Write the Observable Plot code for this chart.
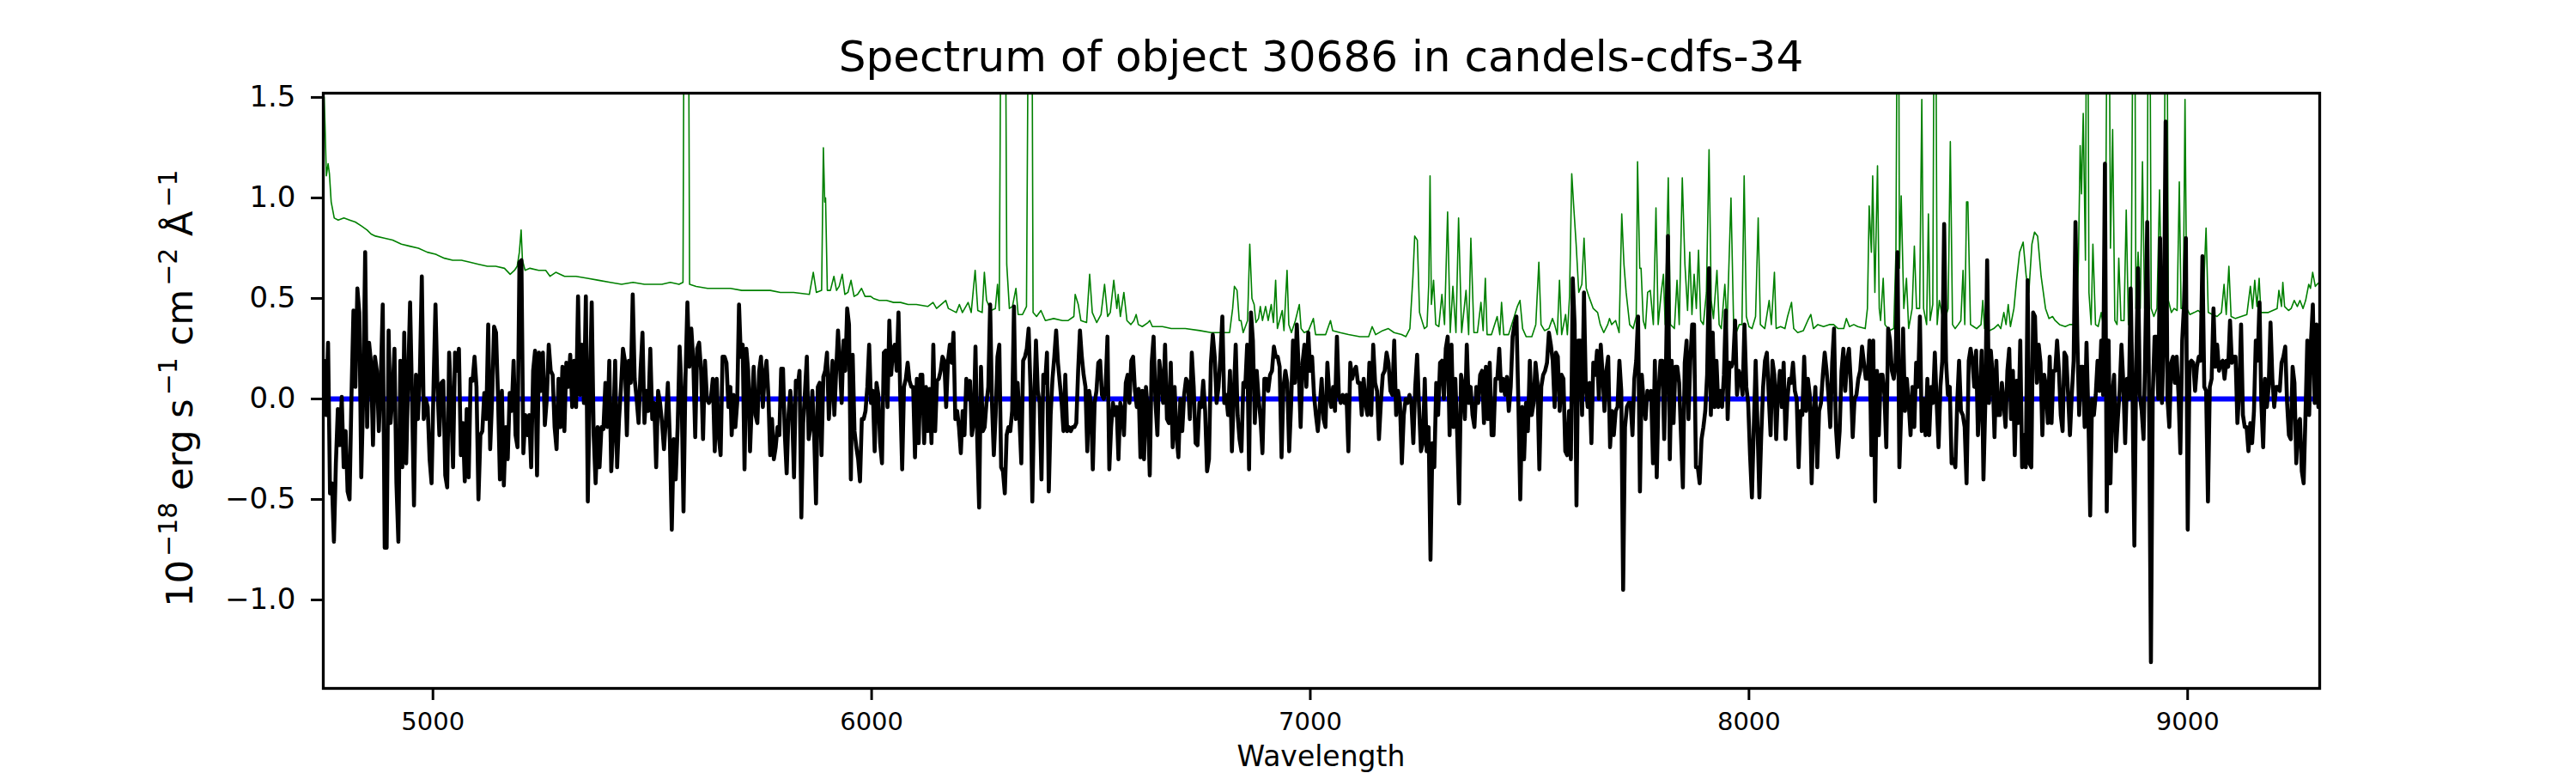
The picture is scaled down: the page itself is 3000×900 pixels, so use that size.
<!DOCTYPE html>
<html>
<head>
<meta charset="utf-8">
<script src="https://cdn.jsdelivr.net/npm/d3@7"></script>
<script src="https://cdn.jsdelivr.net/npm/@observablehq/plot@0.6"></script>
<style>
  html, body { margin: 0; padding: 0; background: #fff; }
  #wrap { position: relative; width: 3000px; height: 900px; font-family: "DejaVu Sans", sans-serif; color: #000; }
  #title { box-sizing: border-box; margin-left: 376px; width: 2325px; height: 100px; padding-top: 37px;
           font-size: 50px; line-height: 58px; text-align: center; white-space: nowrap; }
  #chart svg { display: block; }
</style>
</head>
<body>
<div id="wrap">
  <div id="title"></div>
  <div id="chart"></div>
</div>
<script>
const flux1 = [0.19,-0.08,0.28,-0.47,-0.42,-0.71,-0.32,-0.05,-0.23,0.01,-0.34,-0.16,-0.46,-0.50,0.02,0.44,0.06,0.55,0.43,-0.39,0.02,0.73,-0.14,0.28,0.18,-0.23,0.21,0.14,-0.16,0.10,0.47,-0.74,-0.74,0.34,-0.12,0.02,0.25,-0.42,-0.71,0.19,-0.34,0.33,-0.32,0.10,0.48,0.00,-0.53,0.12,-0.10,0.12,0.61,-0.10,0.00,-0.04,-0.30,-0.42,0.06,0.47,0.06,-0.18,0.08,0.09,-0.38,-0.44,0.23,-0.02,-0.34,0.23,0.14,0.25,-0.28,-0.12,-0.41,-0.05,-0.39,0.10,0.09,0.21,0.06,-0.50,-0.18,-0.16,0.03,-0.10,0.37,-0.25,0.00,0.36,0.33,0.02,-0.40,0.04,-0.43,-0.14,-0.30,0.03,-0.06,0.19,-0.18,-0.24,0.68,0.69,-0.27,-0.08,-0.18,-0.08,-0.34,0.14,0.24,-0.38,0.23,0.04,0.23,-0.13,0.00,0.27,0.14,0.12,-0.14,-0.25,0.10,-0.14,0.16,-0.16,0.18,0.06,0.22,-0.04,0.19,-0.04,0.51,0.02,0.27,-0.02,0.51,-0.51,0.05,0.48,-0.18,-0.42,-0.14,-0.34,-0.14,-0.15,0.08,-0.14,0.19,-0.36,-0.16,0.19,-0.34,-0.10,0.06,0.25,0.19,-0.18,0.19,0.08,0.52,0.10,0.00,-0.12,0.14,0.33,-0.12,0.04,-0.06,0.25,-0.10,-0.02,-0.34,0.04,-0.02,-0.12,-0.25,-0.10,0.08,-0.20,-0.65,-0.20,-0.40,-0.14,0.26,0.04,-0.56,0.10,0.48,0.16,0.35,0.19,-0.19,0.25,0.28,0.14,-0.20,0.19,0.00,-0.02,0.00,0.10,-0.26,0.10,-0.18,-0.28,0.21,0.21,0.18,-0.04,0.06];
const flux2 = [-0.18,0.02,-0.14,-0.02,0.47,0.21,0.27,-0.35,0.25,0.14,-0.26,-0.02,0.16,-0.08,-0.12,0.14,0.21,-0.04,0.12,0.19,0.02,-0.28,-0.10,-0.30,-0.24,-0.14,-0.18,0.15,0.15,-0.18,-0.37,-0.08,0.04,-0.08,-0.39,0.09,0.06,0.14,-0.59,-0.12,0.04,0.21,-0.20,-0.14,0.04,-0.18,-0.52,0.06,0.08,-0.28,0.11,0.14,0.23,-0.10,0.06,0.19,-0.08,0.14,0.34,0.18,-0.02,0.29,0.14,0.45,0.37,-0.40,0.22,-0.16,-0.24,-0.30,-0.41,-0.10,-0.10,-0.06,0.06,0.27,-0.02,0.04,-0.26,0.08,0.02,-0.22,-0.32,0.23,0.24,-0.04,0.39,0.12,0.25,0.27,0.14,0.43,0.00,-0.35,0.06,0.10,0.18,0.09,0.06,0.06,-0.29,0.10,-0.22,0.12,0.12,-0.22,0.06,-0.16,0.05,-0.22,0.27,-0.16,0.09,0.10,0.14,0.21,0.19,-0.04,0.19,0.27,0.18,0.33,-0.10,-0.06,-0.14,-0.27,-0.06,-0.18,0.10,0.00,0.09,-0.18,-0.12,0.26,-0.22,-0.54,0.16,-0.16,-0.14,-0.02,0.06,0.47,-0.02,-0.28,-0.08,0.21,0.27,-0.34,-0.36,-0.47,-0.18,-0.14,-0.16,-0.06,0.46,-0.10,0.08,-0.10,-0.32,0.19,0.21,0.25,0.35,0.06,-0.51,-0.02,0.29,0.04,-0.02,-0.40,0.12,0.08,0.23,-0.46,-0.08,0.10,0.21,0.34,0.18,0.08,-0.02,-0.16,0.12,-0.16,-0.14,-0.16,-0.14,-0.14,-0.12,0.14,0.34,0.21,0.12,0.06,-0.26,0.04,-0.02,-0.35,-0.02,0.04,0.18,0.19,0.02,0.00,0.06,0.31,-0.35,-0.14,-0.02,-0.08,-0.04,-0.30,-0.02,-0.06,-0.18,0.08,0.12,-0.02,0.19,0.21,0.04,-0.04,0.05,-0.29,0.04];
const flux3 = [-0.30,0.06,-0.06,-0.38,0.18,0.31,-0.02,-0.18,0.19,0.10,-0.02,0.27,-0.10,-0.12,0.18,-0.24,0.06,-0.18,-0.29,0.00,-0.16,0.02,0.10,0.08,-0.10,0.23,0.06,-0.22,-0.23,-0.02,-0.04,0.09,-0.06,-0.36,-0.30,0.18,0.32,0.21,-0.02,0.06,0.21,0.41,-0.02,0.02,-0.08,0.14,-0.26,0.02,0.27,-0.08,-0.20,-0.26,0.08,0.06,0.27,-0.35,0.43,0.29,-0.12,0.14,0.00,-0.10,-0.27,0.10,0.10,0.04,0.12,0.14,0.26,0.21,0.21,0.16,-0.29,0.06,0.14,0.08,-0.26,-0.03,0.29,0.08,0.37,0.14,-0.14,0.18,0.27,0.06,0.33,0.14,0.21,0.02,-0.08,-0.16,-0.04,0.10,-0.10,-0.14,0.18,0.02,-0.04,0.06,-0.06,0.31,0.02,-0.02,0.02,-0.02,0.02,-0.26,0.18,0.10,0.14,0.16,0.08,0.08,-0.08,0.10,-0.02,-0.08,0.18,-0.08,0.27,0.08,0.04,-0.20,-0.02,0.12,0.14,0.23,0.18,0.04,0.02,0.29,-0.08,0.04,-0.02,-0.32,-0.08,0.00,-0.02,0.02,-0.02,-0.22,0.06,0.22,-0.04,-0.26,-0.22,0.10,-0.26,-0.14,-0.80,-0.22,-0.34,0.08,-0.08,0.18,0.19,0.00,0.25,0.31,-0.18,0.27,-0.14,0.10,-0.18,-0.52,0.12,0.06,-0.10,0.27,-0.02,0.06,-0.08,-0.14,0.06,-0.02,0.12,0.14,-0.12,0.16,-0.10,0.18,-0.18,-0.18,0.10,0.10,0.25,0.04,0.10,0.02,0.11,-0.06,0.06,0.31,0.37,0.41,-0.02,-0.50,-0.04,-0.30,-0.02,-0.16,0.19,-0.08,-0.02,0.18,0.08,-0.35,0.06,0.12,0.14,0.18,0.33,0.27,0.19,-0.04];
const flux4 = [0.23,0.21,-0.06,0.12,0.10,-0.26,-0.28,-0.06,-0.30,0.60,0.37,-0.53,0.29,0.29,-0.08,0.53,0.06,-0.04,0.08,-0.22,0.18,0.12,0.24,0.00,0.27,0.12,-0.06,0.14,0.21,-0.24,-0.06,-0.18,-0.06,-0.04,0.19,0.04,-0.95,-0.14,-0.04,-0.02,-0.02,-0.18,0.10,0.19,0.41,-0.46,0.12,-0.02,-0.10,0.04,0.00,0.04,-0.32,0.19,-0.39,0.04,0.19,0.19,-0.20,0.19,0.81,-0.30,0.19,-0.12,0.16,0.16,0.08,-0.18,-0.44,0.18,0.29,-0.10,0.19,0.37,0.37,-0.34,-0.34,-0.42,-0.20,-0.14,-0.06,0.12,0.65,-0.08,0.33,-0.04,0.19,-0.04,0.04,-0.04,0.12,0.44,-0.10,0.18,0.16,0.19,0.39,0.02,0.14,0.10,0.02,0.37,0.06,-0.02,-0.28,-0.49,-0.14,0.19,-0.14,-0.49,-0.18,0.06,0.19,0.23,0.02,-0.18,0.19,0.12,-0.20,0.04,0.14,-0.04,0.18,-0.20,0.00,0.10,0.08,0.18,0.04,0.00,-0.34,-0.06,-0.08,0.21,-0.06,0.10,0.02,-0.42,-0.08,0.06,-0.34,-0.06,-0.02,0.12,0.23,0.14,0.02,-0.14,0.18,0.35,-0.14,-0.29,-0.16,0.14,0.25,0.04,0.19,0.25,0.08,-0.19,0.00,0.02,0.10,0.14,0.26,0.18,0.10,0.10,0.29,-0.28,0.29,-0.51,0.14,-0.18,0.12,0.12,0.02,-0.24,0.35,0.29,0.14,0.10,0.18,0.73,-0.34,-0.06,0.35,-0.06,0.10,-0.02,-0.18,0.06,-0.14,0.18,0.06,0.41,-0.16,0.00,-0.18,0.10,-0.18,0.06,-0.02,0.23,-0.02,-0.24,0.06,0.19,0.87,0.19,0.02,0.06,-0.32,-0.30,-0.34,-0.02,0.19,-0.06,-0.08,-0.14,-0.42];
const flux5 = [0.19,0.25,0.19,0.06,0.24,-0.18,0.00,0.24,-0.40,-0.02,0.69,-0.02,0.24,0.12,-0.19,0.19,-0.08,-0.08,0.08,-0.02,-0.14,0.14,0.25,-0.10,0.14,-0.28,0.09,-0.12,0.29,-0.34,-0.18,-0.34,0.59,-0.32,-0.34,0.43,0.41,0.08,0.27,0.18,-0.18,0.12,0.06,-0.12,0.21,-0.12,0.14,0.14,0.29,0.14,-0.08,-0.16,0.23,0.21,0.02,-0.18,0.02,0.19,0.88,0.31,-0.08,0.16,0.16,-0.14,0.28,-0.08,-0.58,0.00,-0.08,0.02,0.19,0.04,0.29,0.02,1.17,-0.56,0.29,-0.42,0.02,0.12,-0.26,-0.10,0.04,0.27,0.08,-0.22,0.10,0.00,0.55,0.02,-0.73,0.18,0.65,0.02,-0.06,-0.20,0.29,0.88,-0.02,-1.31,0.02,0.31,0.31,0.00,0.80,-0.02,0.31,1.38,0.00,-0.14,0.18,0.21,0.08,0.21,0.02,-0.27,0.29,0.47,0.80,-0.65,0.18,0.19,0.18,0.04,0.16,0.21,0.19,0.71,0.06,0.04,-0.51,0.06,0.10,0.45,0.16,0.27,0.14,0.18,0.19,0.10,0.19,0.16,0.39,0.18,0.21,0.21,-0.12,0.04,0.37,-0.08,-0.14,-0.14,-0.26,-0.12,-0.22,-0.06,0.29,0.19,0.48,-0.02,-0.24,0.10,-0.04,0.06,0.38,0.10,-0.04,0.06,0.06,0.04,0.18,0.21,0.26,-0.02,-0.18,-0.20,0.16,0.08,-0.32,-0.12,-0.10,-0.36,-0.42,-0.08,0.29,-0.08,0.29,0.47,-0.02,0.37,-0.04];
// wavelength range (Å) covered by each flux segment, sampled evenly
const fluxRanges = [[4752, 5678], [5681, 6617], [6621, 7557], [7560, 8496], [8501, 9298]];

// ---- noise / sky spectrum (green): [wavelength Å, value] ----
const noise = [[4750,1.52],[4752,1.50],[4754,1.36],[4757,1.11],[4761,1.17],[4764,1.12],[4768,0.98],[4775,0.90],[4784,0.89],[4797,0.90],[4810,0.89],[4823,0.88],[4837,0.86],[4850,0.84],[4859,0.82],[4869,0.81],[4889,0.80],[4908,0.79],[4928,0.77],[4947,0.76],[4967,0.75],[4987,0.73],[5006,0.72],[5026,0.70],[5045,0.69],[5065,0.69],[5084,0.68],[5104,0.67],[5124,0.66],[5143,0.66],[5163,0.65],[5176,0.62],[5186,0.64],[5192,0.66],[5197,0.73],[5201,0.84],[5204,0.69],[5210,0.64],[5221,0.65],[5241,0.64],[5257,0.64],[5267,0.61],[5280,0.63],[5300,0.61],[5326,0.61],[5352,0.60],[5378,0.59],[5404,0.58],[5430,0.57],[5456,0.58],[5482,0.57],[5522,0.57],[5541,0.58],[5561,0.57],[5570,0.58],[5574,3.0],[5581,3.0],[5585,0.57],[5600,0.56],[5626,0.55],[5652,0.55],[5678,0.55],
[5704,0.54],[5730,0.54],[5769,0.54],[5792,0.53],[5822,0.53],[5858,0.52],[5867,0.63],[5874,0.53],[5886,0.54],[5890,1.25],[5893,0.98],[5895,1.00],[5899,0.54],[5906,0.54],[5914,0.61],[5920,0.54],[5926,0.56],[5933,0.62],[5939,0.52],[5946,0.53],[5953,0.59],[5960,0.51],[5968,0.52],[5977,0.55],[5985,0.51],[5998,0.51],[6004,0.50],[6017,0.49],[6034,0.49],[6050,0.48],[6066,0.48],[6083,0.47],[6102,0.47],[6128,0.46],[6140,0.48],[6148,0.45],[6169,0.49],[6175,0.45],[6193,0.43],[6200,0.47],[6207,0.43],[6220,0.48],[6227,0.43],[6236,0.64],[6242,0.44],[6252,0.43],[6257,0.63],[6262,0.49],[6272,0.44],[6282,0.45],[6287,0.57],[6291,0.44],[6297,3.0],[6303,3.0],[6308,0.67],[6314,0.45],[6321,0.46],[6329,0.55],[6334,0.42],[6344,0.42],[6353,0.46],[6360,3.0],[6364,3.0],[6368,0.43],[6376,0.41],[6386,0.44],[6396,0.39],[6415,0.40],[6435,0.39],[6448,0.39],[6461,0.41],[6464,0.52],[6471,0.47],[6477,0.39],[6490,0.38],[6497,0.62],[6503,0.43],[6513,0.38],[6523,0.42],[6531,0.57],[6538,0.41],[6544,0.43],[6552,0.59],[6559,0.45],[6562,0.52],[6567,0.41],[6575,0.53],[6582,0.39],[6591,0.37],[6598,0.39],[6603,0.42],[6608,0.37],[6617,0.36],
[6630,0.38],[6634,0.39],[6640,0.36],[6663,0.36],[6683,0.35],[6715,0.35],[6748,0.34],[6774,0.33],[6800,0.33],[6816,0.33],[6823,0.45],[6827,0.56],[6833,0.54],[6838,0.39],[6842,0.39],[6847,0.33],[6857,0.39],[6862,0.77],[6867,0.50],[6872,0.47],[6876,0.38],[6882,0.40],[6886,0.46],[6891,0.39],[6898,0.46],[6904,0.39],[6911,0.47],[6916,0.38],[6921,0.59],[6925,0.35],[6936,0.44],[6940,0.34],[6947,0.64],[6951,0.37],[6957,0.33],[6966,0.39],[6975,0.47],[6979,0.35],[6986,0.33],[6996,0.34],[7007,0.40],[7012,0.32],[7022,0.32],[7035,0.32],[7046,0.39],[7051,0.34],[7068,0.33],[7087,0.32],[7113,0.31],[7133,0.31],[7141,0.36],[7149,0.32],[7165,0.34],[7178,0.35],[7191,0.33],[7208,0.32],[7218,0.31],[7227,0.35],[7234,0.61],[7238,0.81],[7244,0.79],[7249,0.43],[7253,0.40],[7260,0.35],[7266,0.36],[7270,0.57],[7273,1.11],[7276,0.47],[7281,0.59],[7286,0.37],[7293,0.36],[7300,0.52],[7306,0.37],[7313,0.93],[7319,0.33],[7325,0.56],[7332,0.33],[7338,0.90],[7345,0.33],[7355,0.54],[7361,0.32],[7366,0.80],[7373,0.33],[7381,0.33],[7389,0.48],[7394,0.34],[7399,0.60],[7403,0.32],[7413,0.32],[7426,0.41],[7432,0.32],[7436,0.48],[7441,0.32],[7452,0.32],[7465,0.41],[7472,0.46],[7478,0.49],[7484,0.35],[7492,0.31],[7505,0.31],[7514,0.37],[7521,0.68],[7526,0.37],[7534,0.34],[7544,0.35],[7552,0.40],[7557,0.37],
[7563,0.32],[7568,0.59],[7573,0.32],[7582,0.42],[7586,0.32],[7591,0.51],[7596,1.12],[7601,0.94],[7606,0.77],[7612,0.53],[7619,0.57],[7624,0.80],[7629,0.55],[7635,0.51],[7645,0.45],[7655,0.43],[7661,0.37],[7669,0.33],[7678,0.37],[7682,0.40],[7687,0.37],[7696,0.39],[7704,0.33],[7710,0.92],[7715,0.67],[7720,0.53],[7728,0.37],[7736,0.35],[7743,0.41],[7746,1.18],[7751,0.65],[7754,0.65],[7759,0.39],[7764,0.35],[7769,0.53],[7775,0.54],[7782,0.37],[7788,0.95],[7793,0.37],[7800,0.53],[7805,0.62],[7809,0.37],[7816,1.10],[7821,0.37],[7830,0.35],[7836,0.59],[7841,0.37],[7848,1.10],[7854,0.67],[7860,0.44],[7865,0.73],[7870,0.42],[7875,0.62],[7880,0.45],[7885,0.74],[7890,0.39],[7896,0.37],[7903,0.53],[7909,1.24],[7914,0.49],[7919,0.40],[7927,0.64],[7932,0.37],[7937,0.35],[7945,0.57],[7950,0.36],[7959,1.00],[7965,0.37],[7971,0.33],[7978,0.37],[7984,0.37],[7989,1.11],[7994,0.41],[8000,0.36],[8007,0.35],[8015,0.41],[8021,0.90],[8026,0.37],[8036,0.35],[8046,0.49],[8051,0.37],[8058,0.63],[8062,0.35],[8072,0.36],[8082,0.35],[8088,0.41],[8097,0.48],[8102,0.35],[8111,0.33],[8124,0.34],[8134,0.39],[8141,0.42],[8147,0.35],[8157,0.37],[8170,0.36],[8183,0.37],[8193,0.37],[8203,0.35],[8216,0.35],[8222,0.40],[8229,0.36],[8239,0.37],[8248,0.36],[8265,0.35],[8270,0.45],[8274,0.96],[8279,0.73],[8282,1.11],[8287,0.53],[8293,1.16],[8297,0.45],[8300,0.39],[8306,0.60],[8310,0.37],[8320,0.34],[8330,0.35],[8335,0.73],[8340,3.0],[8343,0.65],[8347,1.01],[8353,0.45],[8359,0.60],[8364,0.35],[8372,0.45],[8377,0.76],[8382,0.45],[8389,0.45],[8394,1.49],[8398,0.45],[8405,0.37],[8409,0.92],[8413,0.39],[8419,0.47],[8424,3.0],[8429,0.37],[8434,0.49],[8441,0.41],[8446,0.39],[8454,0.45],[8459,1.28],[8464,0.37],[8470,0.35],[8477,0.37],[8483,0.39],[8488,0.64],[8492,0.37],[8496,0.98],
[8499,0.98],[8505,0.37],[8512,0.36],[8519,0.35],[8529,0.37],[8533,0.49],[8537,0.35],[8548,0.34],[8558,0.35],[8568,0.37],[8574,0.35],[8581,0.43],[8586,0.37],[8591,0.47],[8596,0.36],[8604,0.45],[8610,0.59],[8617,0.73],[8625,0.78],[8632,0.61],[8638,0.53],[8645,0.77],[8651,0.83],[8658,0.81],[8666,0.61],[8676,0.45],[8684,0.40],[8692,0.41],[8698,0.39],[8708,0.37],[8721,0.36],[8731,0.37],[8741,0.37],[8747,0.39],[8751,0.69],[8755,1.26],[8758,1.02],[8762,1.42],[8767,0.69],[8771,3.0],[8775,0.53],[8780,0.37],[8784,0.77],[8790,0.37],[8796,0.36],[8803,0.43],[8809,0.35],[8814,1.16],[8819,3.0],[8824,0.75],[8829,1.34],[8834,0.39],[8839,0.37],[8843,0.70],[8848,0.39],[8855,0.39],[8860,0.94],[8865,0.37],[8871,0.37],[8878,3.0],[8882,0.45],[8887,0.73],[8892,0.45],[8897,1.18],[8902,0.45],[8907,0.41],[8912,3.0],[8917,0.45],[8923,0.41],[8930,0.45],[8936,1.04],[8941,0.45],[8946,0.57],[8951,3.0],[8956,0.49],[8963,0.43],[8969,0.45],[8976,0.44],[8981,1.08],[8985,0.45],[8990,0.45],[8994,1.49],[8998,0.45],[9005,0.42],[9015,0.43],[9024,0.44],[9034,0.42],[9042,0.85],[9047,0.43],[9057,0.42],[9067,0.41],[9077,0.43],[9083,0.57],[9088,0.42],[9094,0.66],[9099,0.41],[9109,0.40],[9122,0.41],[9135,0.42],[9143,0.56],[9148,0.45],[9153,0.59],[9158,0.46],[9163,0.60],[9167,0.43],[9175,0.43],[9184,0.43],[9194,0.44],[9204,0.45],[9208,0.54],[9214,0.46],[9217,0.58],[9221,0.46],[9230,0.44],[9236,0.45],[9243,0.49],[9250,0.46],[9256,0.49],[9263,0.45],[9269,0.49],[9276,0.57],[9280,0.55],[9285,0.63],[9291,0.56],[9295,0.57],[9300,0.58]];

// ---- model (blue) ----
const modelWave = [4755, 9300];
const modelFlux = [0, 0];

// ---- axes / text ----
const xTicks = [5000, 6000, 7000, 8000, 9000];
const yTicks = [-1.0, -0.5, 0.0, 0.5, 1.0, 1.5];
const titleText = "Spectrum of object 30686 in candels-cdfs-34";
const xLabel = "Wavelength";
const yLabelParts = [["10", false], ["\u221218", true], [" erg s", false], ["\u22121", true], [" cm", false], ["\u22122", true], [" \u00c5", false], ["\u22121", true]];

// build tables
const fluxSegs = [flux1, flux2, flux3, flux4, flux5];
const spectrum = fluxSegs.flatMap((vals, k) => {
  const [a, b] = fluxRanges[k];
  return vals.map((f, i) => ({w: a + i * (b - a) / (vals.length - 1), f}));
});
const noiseRows = noise.map(([w, f]) => ({w, f}));
const modelRows = modelWave.map((w, i) => ({w, f: modelFlux[i]}));

document.getElementById("title").textContent = titleText;

const chart = Plot.plot({
  width: 3000,
  height: 800,
  marginLeft: 376,
  marginRight: 299,
  marginTop: 8,
  marginBottom: 99,
  style: {fontFamily: "DejaVu Sans", background: "white", color: "black", overflow: "visible"},
  x: {domain: [4750, 9301]},
  y: {domain: [-1.44, 1.521]},
  marks: [
    Plot.line(noiseRows, {x: "w", y: "f", stroke: "green", strokeWidth: 1.6, clip: true}),
    Plot.line(modelRows, {x: "w", y: "f", stroke: "#0000ff", strokeWidth: 6, clip: true}),
    Plot.line(spectrum, {x: "w", y: "f", stroke: "black", strokeWidth: 4.6, strokeLinejoin: "round", clip: true}),
    Plot.frame({stroke: "black", strokeWidth: 3.3}),
    Plot.axisX({ticks: xTicks, tickFormat: d3.format("d"), tickSize: 14, tickPadding: 14, strokeWidth: 3, fontSize: 29, label: null}),
    Plot.axisY({ticks: yTicks, tickFormat: d3.format(".1f"), tickSize: 14, tickPadding: 18, strokeWidth: 3, fontSize: 34, label: null})
  ]
});
document.getElementById("chart").appendChild(chart);

const svg = d3.select(chart);
// x-axis label
svg.append("text")
  .attr("x", (376 + 2701) / 2)
  .attr("y", 792)
  .attr("text-anchor", "middle")
  .attr("font-family", "DejaVu Sans")
  .attr("font-size", 33)
  .attr("fill", "black")
  .text(xLabel);
// y-axis label with superscripts (matplotlib mathtext style)
const yl = svg.append("text")
  .attr("transform", "translate(224,352) rotate(-90)")
  .attr("text-anchor", "middle")
  .attr("font-family", "DejaVu Sans")
  .attr("font-size", 43)
  .attr("fill", "black");
yLabelParts.forEach(([txt, sup], i) => {
  yl.append("tspan")
    .attr("font-size", sup ? 30 : 43)
    .attr("dy", i === 0 ? 0 : (sup ? -18 : 18))
    .attr("dx", sup ? 4 : 0)
    .text(txt);
});
</script>
</body>
</html>
